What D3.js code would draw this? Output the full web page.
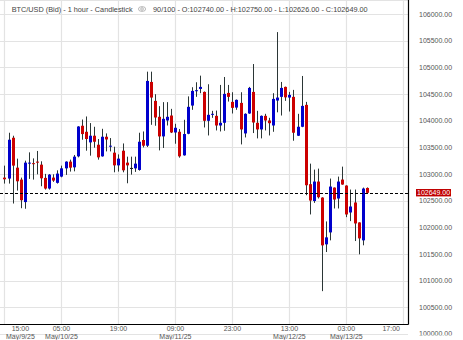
<!DOCTYPE html>
<html><head><meta charset="utf-8">
<script src="https://cdn.jsdelivr.net/npm/d3@7"></script>
<style>
body{margin:0;background:#fff;}
svg{display:block;font-family:"Liberation Sans",Arial,sans-serif;}
</style>
</head><body>
<svg id="c" width="463" height="340"></svg>
<script>
// ---------- DATA ----------
const firstBar = "2025-05-09T15:00"; // hourly bars
const opens = [102934,102916,103682,103121,102897,102475,103205,103205,103234,103177,
102929,102729,102934,102836,102953,103108,103234,103127,103333,103907,
103794,103595,103720,103551,103333,103701,103527,103402,103164,103439,
103215,103116,103108,103078,103640,103533,104729,104374,104075,103707,
104006,104099,103781,103794,103352,103757,104286,104567,104598,104542,
104000,104125,104093,103912,103963,104523,104355,104248,104336,103763,
104137,104542,103963,103838,104093,104006,103912,104380,104449,104636,
104436,104449,103720,103888,104299,102811,102495,102860,102560,101682,
101906,102747,102542,102897,102785,102280,102467,102093,101757,102740];
const highs = [103159,103776,103720,103290,102934,103252,103408,103295,103434,103240,
103004,103000,102996,103071,103159,103240,103271,103359,103900,104024,
104081,103957,103888,103658,103850,103763,103676,103514,103370,103575,
103327,103327,103327,103776,103800,104922,104922,104499,104275,104350,
104350,104224,103944,103845,104019,104458,104630,104723,104847,104550,
104686,104187,104192,104673,104822,104673,104536,104400,104536,104140,
104636,105065,104187,104100,104131,104056,104518,105664,104729,104642,
104542,104580,104131,104841,104355,103196,103084,103103,102565,102112,
102916,102750,102953,103140,102790,102710,102710,102095,102747,102750];
const lows = [102822,102822,102448,102691,102360,102350,102910,102897,102996,102772,
102710,102710,102854,102822,102940,102985,103047,103052,103314,103645,
103439,103346,103495,103271,103327,103426,103426,103034,103047,103034,
102828,102990,103041,103065,103500,103508,103925,103907,103445,103490,
103912,103770,103570,103308,103346,103748,104206,104450,104518,103875,
103725,104056,103819,103800,103813,104361,104137,104206,103557,103688,
104131,103770,103670,103670,103819,103725,103794,104159,104099,104374,
104174,103626,103714,103880,102604,102243,102460,102542,100804,101538,
101757,102355,102355,102800,102192,102118,101744,101495,101664,102626];
const closes = [102903,103645,103159,102865,102510,103215,103215,103190,103215,102921,
102729,102990,102878,103009,103108,103234,103121,103327,103893,103751,
103658,103720,103607,103314,103701,103650,103533,103164,103290,103071,
103164,103116,103196,103607,103533,104748,104436,104062,103707,104037,
104075,103781,103869,103333,103752,104262,104561,104574,104636,104000,
104112,104131,103912,103963,104505,104449,104243,104393,103838,104131,
104617,103968,103838,104093,104006,103955,104411,104436,104617,104440,
104486,103776,103888,104280,102791,102504,102860,102566,101663,101813,
102766,102523,102860,102804,102243,102392,102074,101794,102729,102649];
const yTicks = [100000,100500,101000,101500,102000,102500,103000,103500,104000,104500,105000,105500,106000];
const xTickTimes = ["2025-05-09T15:00","2025-05-10T05:00","2025-05-10T19:00","2025-05-11T09:00",
                    "2025-05-11T23:00","2025-05-12T13:00","2025-05-13T03:00","2025-05-13T17:00"];
const xTickTimeLabels = ["15:00","05:00","19:00","09:00","23:00","13:00","03:00","17:00"];
const xTickDateLabels = ["May/9/25","May/10/25","","May/11/25","","May/12/25","May/13/25",""];
const titleText = "BTC/USD (Bid) - 1 hour - Candlestick";
const infoText = "90/100 - O:102740.00 - H:102750.00 - L:102626.00 - C:102649.00";
const lastPrice = 102649;

// ---------- LAYOUT ----------
const W = 463, H = 340;
const plotR = 408, plotB = 324;
const parse = d3.timeParse("%Y-%m-%dT%H:%M");
const t0 = parse(firstBar);
const times = opens.map((_, i) => d3.timeHour.offset(t0, i));
const bars = opens.map((o, i) => ({t: times[i], o, h: highs[i], l: lows[i], c: closes[i]}));

const x = d3.scaleTime()
  .domain([new Date(+t0 - 1.1 * 3600e3), new Date(+times[times.length - 1] + 10.14 * 3600e3)])
  .range([0, plotR]);
const y = d3.scaleLinear().domain([100000, 106000]).range([14.2 + 12 * 26.65, 14.2]);

const svg = d3.select("#c");
svg.append("rect").attr("width", W).attr("height", H).attr("fill", "#fff");
const defs = svg.append("defs");
defs.append("clipPath").attr("id", "ylab").append("rect")
  .attr("x", plotR + 1).attr("y", 0).attr("width", W - plotR).attr("height", 335.6);

const grid = svg.append("g");
grid.selectAll("line.h").data(yTicks).join("line")
  .attr("x1", 0).attr("x2", plotR)
  .attr("y1", d => Math.round(y(d)) + 0.5).attr("y2", d => Math.round(y(d)) + 0.5)
  .attr("stroke", "#e3e3e3").attr("stroke-width", 1.2);
const xt = xTickTimes.map(parse);
grid.selectAll("line.v").data(xt).join("line")
  .attr("x1", d => Math.round(x(d)) + 0.5).attr("x2", d => Math.round(x(d)) + 0.5)
  .attr("y1", 0).attr("y2", plotB)
  .attr("stroke", "#e3e3e3").attr("stroke-width", 1.2);

svg.append("line").attr("x1", 0).attr("x2", plotR).attr("y1", 0.5).attr("y2", 0.5)
  .attr("stroke", "#e3e3e3");

// candles
const cg = svg.append("g");
const col = d => d.c > d.o ? "#0000cc" : (d.c < d.o ? "#cc0000" : "#111");
cg.selectAll("line.w").data(bars).join("line")
  .attr("x1", d => Math.round(x(d.t)) + 0.5).attr("x2", d => Math.round(x(d.t)) + 0.5)
  .attr("y1", d => y(d.h)).attr("y2", d => y(d.l))
  .attr("stroke", "#2b3636").attr("stroke-width", 1);
cg.selectAll("rect.b").data(bars).join("rect")
  .attr("x", d => Math.round(x(d.t)) - 1)
  .attr("width", 3)
  .attr("y", d => Math.min(y(d.o), y(d.c)))
  .attr("height", d => Math.max(1, Math.abs(y(d.o) - y(d.c))))
  .attr("fill", col);

// last price dashed line
const yl = Math.round(y(lastPrice)) + 0.5;
svg.append("line").attr("x1", 0).attr("x2", plotR).attr("y1", yl).attr("y2", yl)
  .attr("stroke", "#000").attr("stroke-width", 1).attr("stroke-dasharray", "3,2");

// axes lines
svg.append("line").attr("x1", 0).attr("x2", plotR + 0.5).attr("y1", plotB + 0.5).attr("y2", plotB + 0.5)
  .attr("stroke", "#000").attr("stroke-width", 1.2);
svg.append("line").attr("x1", plotR + 0.5).attr("x2", plotR + 0.5).attr("y1", 0).attr("y2", plotB + 0.5)
  .attr("stroke", "#000").attr("stroke-width", 1.2);

// y labels
svg.append("g").attr("clip-path", "url(#ylab)").selectAll("text").data(yTicks).join("text")
  .attr("x", 419).attr("y", d => y(d)).attr("dy", "0.35em")
  .attr("font-size", 7).attr("fill", "#555")
  .text(d => d3.format(".2f")(d));

// last price tag
const lp = svg.append("g");
lp.append("rect").attr("x", 416).attr("y", y(lastPrice) - 3.8).attr("width", 35).attr("height", 7.4)
  .attr("fill", "#c00000");
lp.append("text").attr("x", 417).attr("y", y(lastPrice)).attr("dy", "0.35em")
  .attr("font-size", 7).attr("fill", "#fff").text(d3.format(".2f")(lastPrice));

// x labels (clamped inside plot)
const xl = svg.append("g");
xt.forEach((t, i) => {
  const g = xl.append("g");
  const a = g.append("text").attr("y", 330.5).attr("font-size", 7).attr("fill", "#555")
    .attr("text-anchor", "middle").text(xTickTimeLabels[i]);
  const b = g.append("text").attr("y", 338.5).attr("font-size", 7).attr("fill", "#555")
    .attr("text-anchor", "middle").text(xTickDateLabels[i]);
  const w = Math.max(a.node().getComputedTextLength(), b.node().getComputedTextLength());
  let cx = x(t);
  cx = Math.max(cx, 6 + w / 2);
  cx = Math.min(cx, 400 - w / 2);
  a.attr("x", cx); b.attr("x", cx);
});

// header
const hd = svg.append("g");
const tt = hd.append("text").attr("x", 11.7).attr("y", 11.6).attr("font-size", 7.3).attr("fill", "#444").text(titleText);
const tw = tt.node().getComputedTextLength();
const ix = 11.7 + tw + 9.5;
hd.append("ellipse").attr("cx", ix).attr("cy", 9).attr("rx", 3.6).attr("ry", 2.4)
  .attr("fill", "none").attr("stroke", "#999").attr("stroke-width", 0.7);
hd.append("circle").attr("cx", ix).attr("cy", 9).attr("r", 1.3)
  .attr("fill", "none").attr("stroke", "#999").attr("stroke-width", 0.7);
hd.append("text").attr("x", ix + 11).attr("y", 11.6).attr("font-size", 7.3).attr("fill", "#444").text(infoText);
</script>
</body></html>
